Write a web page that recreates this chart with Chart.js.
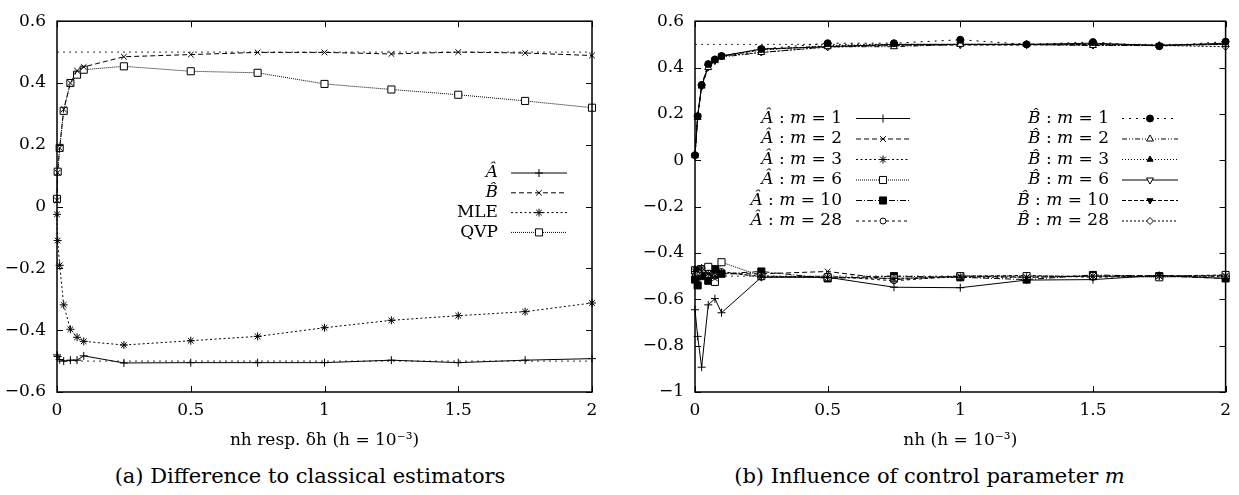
<!DOCTYPE html>
<html>
<head>
<meta charset="utf-8">
<script src="https://cdn.jsdelivr.net/npm/chart.js@4.4.0/dist/chart.umd.min.js"></script>
<style>
  body { margin: 0; background: #fff; width: 1239px; height: 495px; overflow: hidden; position: relative; font-family: "DejaVu Serif", "Liberation Serif", serif; }
  .panel { position: absolute; top: 0; height: 460px; }
  #panelA { left: 0; width: 620px; }
  #panelB { left: 620px; width: 619px; }
  .caption { position: absolute; top: 463px; font-size: 21px; line-height: 26px; text-align: center; color: #000; }
</style>
</head>
<body>
<div class="panel" id="panelA"><canvas id="chartA"></canvas></div>
<div class="panel" id="panelB"><canvas id="chartB"></canvas></div>
<div class="caption" style="left:0;width:620px">(a) Difference to classical estimators</div>
<div class="caption" style="left:620px;width:619px">(b) Influence of control parameter <i>m</i></div>
<script>
// ---- data, panel (a) ----
var xsA = [0, 0.0025, 0.01, 0.025, 0.05, 0.075, 0.1, 0.25, 0.5, 0.75, 1, 1.25, 1.5, 1.75, 2];
var aHat = [-0.48, -0.485, -0.495, -0.5, -0.497, -0.497, -0.483, -0.506, -0.505, -0.505, -0.505, -0.497, -0.505, -0.497, -0.492];
var bHat = [0.02, 0.11, 0.19, 0.315, 0.4, 0.44, 0.452, 0.485, 0.492, 0.499, 0.499, 0.494, 0.5, 0.497, 0.489];
var mle = [-0.025, -0.11, -0.19, -0.318, -0.397, -0.423, -0.436, -0.448, -0.434, -0.42, -0.392, -0.368, -0.353, -0.34, -0.312];
var qvp = [0.025, 0.113, 0.19, 0.31, 0.4, 0.427, 0.443, 0.454, 0.438, 0.433, 0.397, 0.379, 0.362, 0.342, 0.32];

// ---- data, panel (b) ----
var xsB = [0, 0.01, 0.025, 0.05, 0.075, 0.1, 0.25, 0.5, 0.75, 1, 1.25, 1.5, 1.75, 2];
var aM1 = [-0.645, -0.76, -0.893, -0.624, -0.597, -0.658, -0.505, -0.505, -0.548, -0.55, -0.517, -0.515, -0.497, -0.51];
var aM2 = [-0.47, -0.465, -0.48, -0.49, -0.51, -0.49, -0.49, -0.48, -0.515, -0.5, -0.505, -0.5, -0.498, -0.5];
var aM3 = [-0.48, -0.47, -0.465, -0.49, -0.5, -0.485, -0.5, -0.505, -0.51, -0.505, -0.505, -0.5, -0.5, -0.5];
var aM6 = [-0.475, -0.48, -0.47, -0.46, -0.525, -0.44, -0.5, -0.505, -0.51, -0.5, -0.5, -0.5, -0.505, -0.495];
var aM10 = [-0.515, -0.54, -0.5, -0.52, -0.47, -0.49, -0.48, -0.51, -0.5, -0.505, -0.515, -0.495, -0.5, -0.51];
var aM28 = [-0.49, -0.5, -0.49, -0.5, -0.5, -0.48, -0.505, -0.5, -0.52, -0.5, -0.497, -0.505, -0.5, -0.495];
var bM1 = [0.022, 0.19, 0.325, 0.415, 0.435, 0.45, 0.48, 0.505, 0.505, 0.52, 0.5, 0.51, 0.492, 0.512];
var bM2 = [0.02, 0.185, 0.32, 0.4, 0.43, 0.445, 0.465, 0.49, 0.49, 0.5, 0.5, 0.495, 0.495, 0.5];
var bM3 = [0.025, 0.19, 0.325, 0.41, 0.435, 0.45, 0.475, 0.495, 0.5, 0.5, 0.5, 0.5, 0.495, 0.5];
var bM6 = [0.02, 0.19, 0.32, 0.405, 0.43, 0.45, 0.48, 0.49, 0.5, 0.5, 0.5, 0.505, 0.495, 0.505];
var bM10 = [0.02, 0.188, 0.32, 0.4, 0.435, 0.448, 0.478, 0.492, 0.497, 0.497, 0.497, 0.5, 0.497, 0.5];
var bM28 = [0.022, 0.19, 0.322, 0.41, 0.43, 0.45, 0.465, 0.488, 0.495, 0.5, 0.5, 0.495, 0.495, 0.49];

// true values (dotted reference lines)
var refX = [0, 2];
var refLevels = [0.5, -0.5];

var FONT = '"DejaVu Serif", "Liberation Serif", serif';

function series(label, xs, ys, style) {
    return Object.assign({
        label: label,
        data: xs.map(function (x, i) { return {x: x, y: ys[i]}; }),
        borderColor: '#000', borderWidth: 1, borderDash: [],
        pointBorderColor: '#000', pointBackgroundColor: '#000',
        pointBorderWidth: 1, pointRadius: 3.5, pointHoverRadius: 3.5,
        tension: 0, fill: false, clip: false
    }, style);
}

function refLines() {
    return refLevels.map(function (lv) {
        return {
            label: '', data: refX.map(function (x) { return {x: x, y: lv}; }),
            borderColor: '#333', borderWidth: 1, borderDash: [2, 4],
            pointRadius: 0, fill: false, order: 5
        };
    });
}

function tickText(v) {
    var s = String(+(+v).toFixed(2));
    return s.replace('-', '\u2212');
}

// labels like "Â : m = 1" with italic math letters
function drawTexLabel(ctx, text, right, y, size) {
    var parts = text.split(/(Â|B\u0302|m)/).filter(function (s) { return s.length; });
    var fonts = parts.map(function (p) {
        return (/^(Â|B\u0302|m)$/.test(p) ? 'italic ' : '') + size + 'px ' + FONT;
    });
    var total = 0;
    var ws = parts.map(function (p, i) {
        ctx.font = fonts[i];
        var w = ctx.measureText(p).width;
        total += w;
        return w;
    });
    var x = right - total;
    ctx.fillStyle = '#000';
    ctx.textBaseline = 'middle';
    ctx.textAlign = 'left';
    parts.forEach(function (p, i) {
        ctx.font = fonts[i];
        ctx.fillText(p, x, y);
        x += ws[i];
    });
}

var texLegend = {
    id: 'texLegend',
    afterDatasetsDraw: function (chart, args, opts) {
        var ctx = chart.ctx;
        ctx.save();
        chart.data.datasets.forEach(function (ds) {
            if (!ds.legendPos) return;
            var col = opts.columns[ds.legendPos[0]];
            var y = opts.top + ds.legendPos[1] * opts.rowHeight;
            drawTexLabel(ctx, ds.label, col.textRight, y, opts.fontSize);
            ctx.strokeStyle = '#000';
            ctx.lineWidth = ds.borderWidth;
            ctx.setLineDash(ds.borderDash || []);
            ctx.beginPath();
            ctx.moveTo(col.lineStart, y);
            ctx.lineTo(col.lineEnd, y);
            ctx.stroke();
            ctx.setLineDash([]);
            ctx.fillStyle = ds.pointBackgroundColor;
            ctx.lineWidth = ds.pointBorderWidth;
            Chart.helpers.drawPoint(ctx, {
                pointStyle: ds.pointStyle, rotation: ds.pointRotation || 0,
                radius: ds.pointRadius, borderWidth: ds.pointBorderWidth
            }, (col.lineStart + col.lineEnd) / 2, y);
        });
        ctx.restore();
    }
};

// gnuplot style box with inward ticks on all four sides
var gnuFrame = {
    id: 'gnuFrame',
    afterDraw: function (chart) {
        var ctx = chart.ctx, a = chart.chartArea;
        var xs = chart.scales.x, ys = chart.scales.y;
        ctx.save();
        ctx.strokeStyle = '#000';
        ctx.setLineDash([]);
        ctx.lineWidth = 1;
        ctx.beginPath();
        xs.ticks.forEach(function (t) {
            var px = Math.round(xs.getPixelForValue(t.value)) + 0.5;
            ctx.moveTo(px, a.bottom); ctx.lineTo(px, a.bottom - 6);
            ctx.moveTo(px, a.top); ctx.lineTo(px, a.top + 6);
        });
        ys.ticks.forEach(function (t) {
            var py = Math.round(ys.getPixelForValue(t.value)) + 0.5;
            ctx.moveTo(a.left, py); ctx.lineTo(a.left + 6, py);
            ctx.moveTo(a.right, py); ctx.lineTo(a.right - 6, py);
        });
        ctx.stroke();
        ctx.lineWidth = 1.5;
        ctx.strokeRect(a.left, a.top, a.right - a.left, a.bottom - a.top);
        ctx.restore();
    }
};

function makeOptions(yMin, yMax, yWidth, padRight, xTitle, legendOpts) {
    return {
        responsive: true, maintainAspectRatio: false, animation: false,
        devicePixelRatio: 1, events: [],
        layout: {padding: {top: 14, right: padRight, bottom: 0, left: 0}},
        plugins: {legend: {display: false}, tooltip: {enabled: false}, texLegend: legendOpts},
        scales: {
            x: {
                type: 'linear', min: 0, max: 2,
                grid: {display: false, drawTicks: false}, border: {display: false},
                ticks: {stepSize: 0.5, padding: 8, color: '#000', font: {family: FONT, size: 17}, callback: tickText, maxRotation: 0},
                title: {display: true, text: xTitle, color: '#000', font: {family: FONT, size: 17}, padding: {top: 0, bottom: 9}},
                afterFit: function (s) { s.height = 68; }
            },
            y: {
                type: 'linear', min: yMin, max: yMax,
                grid: {display: false, drawTicks: false}, border: {display: false},
                ticks: {stepSize: 0.2, padding: 11, color: '#000', font: {family: FONT, size: 17}, callback: tickText},
                afterFit: function (s) { s.width = yWidth; }
            }
        }
    };
}

Chart.register(texLegend, gnuFrame);

new Chart(document.getElementById('chartA'), {
    type: 'line',
    data: {
        datasets: [
            series('Â', xsA, aHat, {pointStyle: 'cross', pointRadius: 4, legendPos: [0, 0]}),
            series('B\u0302', xsA, bHat, {pointStyle: 'crossRot', borderDash: [5, 3], pointRadius: 4, legendPos: [0, 1]}),
            series('MLE', xsA, mle, {pointStyle: 'star', borderDash: [2, 2.5], pointRadius: 4, legendPos: [0, 2]}),
            series('QVP', xsA, qvp, {pointStyle: 'rect', borderDash: [1, 1], pointRadius: 5, pointBackgroundColor: '#fff', legendPos: [0, 3]})
        ].concat(refLines())
    },
    options: makeOptions(-0.6, 0.6, 57, 28, 'nh resp. \u03b4h (h = 10\u207b\u00b3)', {
        top: 173, rowHeight: 19.8, fontSize: 17,
        columns: [{textRight: 498, lineStart: 511, lineEnd: 567}]
    })
});

new Chart(document.getElementById('chartB'), {
    type: 'line',
    data: {
        datasets: [
            series('Â : m = 1', xsB, aM1, {pointStyle: 'cross', pointRadius: 4, legendPos: [0, 0]}),
            series('Â : m = 2', xsB, aM2, {pointStyle: 'crossRot', borderDash: [5, 3], pointRadius: 4, legendPos: [0, 1]}),
            series('Â : m = 3', xsB, aM3, {pointStyle: 'star', borderDash: [2, 2.5], pointRadius: 4, legendPos: [0, 2]}),
            series('Â : m = 6', xsB, aM6, {pointStyle: 'rect', borderDash: [1, 1], pointRadius: 5, pointBackgroundColor: '#fff', legendPos: [0, 3]}),
            series('Â : m = 10', xsB, aM10, {pointStyle: 'rect', borderDash: [6, 2, 1, 2], pointRadius: 5, legendPos: [0, 4]}),
            series('Â : m = 28', xsB, aM28, {pointStyle: 'circle', borderDash: [3, 3], pointRadius: 3, pointBackgroundColor: '#fff', legendPos: [0, 5]}),
            series('B\u0302 : m = 1', xsB, bM1, {pointStyle: 'circle', borderDash: [2, 5], pointRadius: 3.5, legendPos: [1, 0]}),
            series('B\u0302 : m = 2', xsB, bM2, {pointStyle: 'triangle', borderDash: [5, 2, 1, 2, 1, 2], pointRadius: 4, pointBackgroundColor: '#fff', legendPos: [1, 1]}),
            series('B\u0302 : m = 3', xsB, bM3, {pointStyle: 'triangle', borderDash: [1, 2], pointRadius: 3.5, legendPos: [1, 2]}),
            series('B\u0302 : m = 6', xsB, bM6, {pointStyle: 'triangle', pointRotation: 180, pointRadius: 4, pointBackgroundColor: '#fff', legendPos: [1, 3]}),
            series('B\u0302 : m = 10', xsB, bM10, {pointStyle: 'triangle', pointRotation: 180, borderDash: [4, 2], pointRadius: 3.5, legendPos: [1, 4]}),
            series('B\u0302 : m = 28', xsB, bM28, {pointStyle: 'rectRot', borderDash: [2, 2], pointRadius: 3.5, pointBackgroundColor: '#fff', legendPos: [1, 5]})
        ].concat(refLines())
    },
    options: makeOptions(-1, 0.6, 75, 9, 'nh (h = 10\u207b\u00b3)', {
        top: 118.5, rowHeight: 20.5, fontSize: 17,
        columns: [{textRight: 222, lineStart: 236, lineEnd: 290}, {textRight: 489, lineStart: 502, lineEnd: 558}]
    })
});
</script>
</body>
</html>
